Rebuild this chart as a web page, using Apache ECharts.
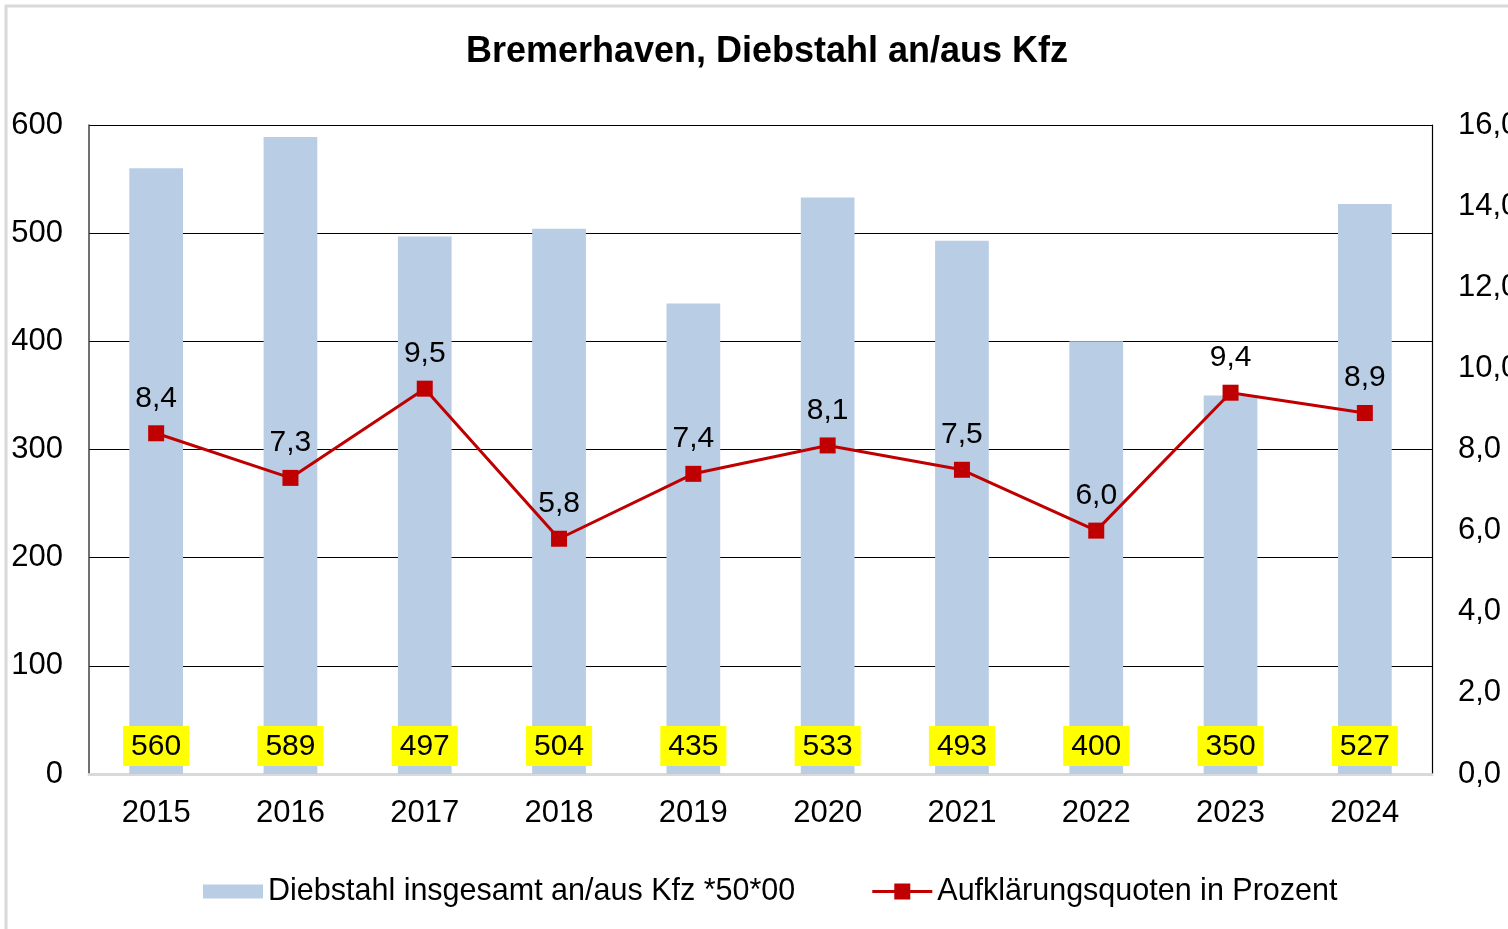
<!DOCTYPE html>
<html>
<head>
<meta charset="utf-8">
<script src="https://cdn.jsdelivr.net/npm/echarts@6/dist/echarts.min.js"></script>
<style>
html,body{margin:0;padding:0;background:#fff;}
#chart{width:1508px;height:929px;}
</style>
</head>
<body>
<div id="chart"></div>
<script>
const years = ['2015','2016','2017','2018','2019','2020','2021','2022','2023','2024'];
const diebstahl = [560, 589, 497, 504, 435, 533, 493, 400, 350, 527];
const quote = [8.4, 7.3, 9.5, 5.8, 7.4, 8.1, 7.5, 6.0, 9.4, 8.9];
const barName = 'Diebstahl insgesamt an/aus Kfz *50*00';
const lineName = 'Aufklärungsquoten in Prozent';
const titleText = 'Bremerhaven, Diebstahl an/aus Kfz';

const FONT = '"Liberation Sans", Arial, sans-serif';
const fmt = v => Number(v).toFixed(1).replace('.', ',');

const chart = echarts.init(document.getElementById('chart'), null, {renderer: 'canvas'});
chart.setOption({
  animation: false,
  backgroundColor: '#fff',
  textStyle: {fontFamily: FONT},
  graphic: [{
    type: 'rect',
    shape: {x: 6, y: 6, width: 1600, height: 1000},
    style: {fill: 'none', stroke: '#d9d9d9', lineWidth: 3},
    silent: true, z: -10
  }],
  title: {
    text: titleText,
    left: 762,
    textAlign: 'center',
    top: 29,
    textStyle: {fontFamily: FONT, fontSize: 36, fontWeight: 'bold', color: '#000'}
  },
  legend: {
    left: 198,
    top: 871,
    itemWidth: 60,
    itemHeight: 16,
    itemGap: 77,
    textStyle: {fontFamily: FONT, fontSize: 30.5, color: '#000'},
    data: [
      {name: barName, icon: 'path://M0,1 L60,1 L60,15 L0,15 Z'},
      {name: lineName, icon: 'path://M0,6.5 L22,6.5 L22,0 L38,0 L38,6.5 L60,6.5 L60,9.5 L38,9.5 L38,16 L22,16 L22,9.5 L0,9.5 Z', itemStyle: {color: '#C00000'}}
    ]
  },
  grid: {left: 89, right: 76, top: 125, bottom: 155, containLabel: false, outerBoundsMode: 'none'},
  xAxis: {
    type: 'category',
    data: years,
    axisTick: {show: false},
    axisLine: {lineStyle: {color: '#d9d9d9', width: 3}},
    axisLabel: {fontFamily: FONT, fontSize: 31, color: '#000', margin: 24}
  },
  yAxis: [{
    type: 'value',
    min: 0, max: 600, interval: 100,
    axisLine: {show: true, lineStyle: {color: '#404040', width: 1.5}},
    axisTick: {show: false},
    splitLine: {lineStyle: {color: '#000', width: 1.2}},
    axisLabel: {fontFamily: FONT, fontSize: 31, color: '#000', margin: 26}
  }, {
    type: 'value',
    min: 0, max: 16, interval: 2,
    position: 'right',
    axisLine: {show: true, lineStyle: {color: '#000', width: 1.2}},
    axisTick: {show: false},
    splitLine: {show: false},
    axisLabel: {fontFamily: FONT, fontSize: 31, color: '#000', margin: 26, formatter: fmt}
  }],
  series: [{
    name: barName,
    type: 'bar',
    data: diebstahl,
    barWidth: '40%',
    itemStyle: {color: '#B9CDE5'},
    label: {
      show: true,
      position: 'insideBottom',
      distance: 8,
      backgroundColor: '#FFFF00',
      padding: [6, 8, 4, 8],
      fontFamily: FONT,
      fontSize: 30,
      color: '#000'
    }
  }, {
    name: lineName,
    type: 'line',
    yAxisIndex: 1,
    data: quote,
    symbol: 'rect',
    symbolSize: 16,
    lineStyle: {color: '#C00000', width: 3},
    itemStyle: {color: '#C00000'},
    label: {
      show: true,
      position: 'top',
      distance: 12,
      fontFamily: FONT,
      fontSize: 30,
      color: '#000',
      formatter: p => fmt(p.value)
    },
    z: 5
  }]
});
</script>
</body>
</html>
